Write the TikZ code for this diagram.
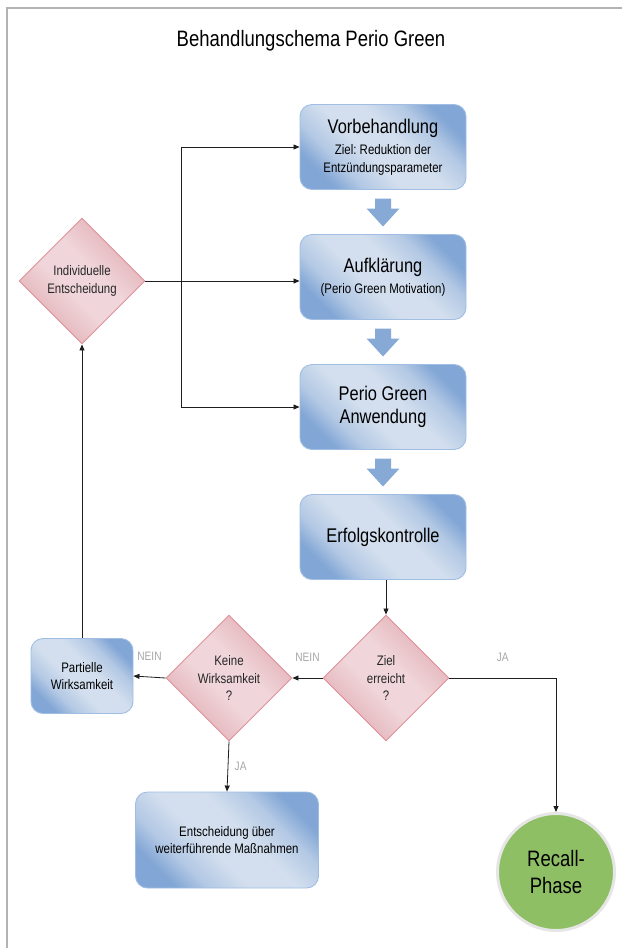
\documentclass[tikz,border=0pt]{standalone}
\usepackage{fontspec}
\setmainfont{Liberation Sans}[FakeStretch=0.83]
\usepackage{tikz}
\usetikzlibrary{calc, shapes.geometric, arrows.meta}
\definecolor{boxDark}{HTML}{82A6D5}
\definecolor{boxLight}{HTML}{D3DFEE}
\colorlet{boxMid}{boxDark!40!boxLight}
\definecolor{boxEdge}{HTML}{A0BEE3}
\definecolor{diaDark}{HTML}{D99AA2}
\definecolor{diaLight}{HTML}{F0D6DA}
\colorlet{diaMid}{diaDark!40!diaLight}
\definecolor{diaEdge}{HTML}{E0929A}
\definecolor{arrowBlue}{HTML}{86A9D6}
\definecolor{recallGreen}{HTML}{8FBF64}
\definecolor{ringGray}{HTML}{E6E6E6}
\definecolor{labelGray}{HTML}{A6A6A6}
\definecolor{lineBlack}{HTML}{1E1E1E}
\definecolor{frameGray}{HTML}{B3B3B3}
\pgfdeclarehorizontalshading{boxShade}{100bp}{color(0bp)=(boxDark); color(25bp)=(boxDark);
    color(33bp)=(boxMid); color(44bp)=(boxLight); color(56bp)=(boxLight); color(67bp)=(boxMid);
    color(75bp)=(boxDark); color(100bp)=(boxDark)}
\pgfdeclarehorizontalshading{diaShade}{100bp}{color(0bp)=(diaDark); color(25bp)=(diaDark);
    color(33bp)=(diaMid); color(44bp)=(diaLight); color(56bp)=(diaLight); color(67bp)=(diaMid);
    color(75bp)=(diaDark); color(100bp)=(diaDark)}
\newcommand{\titleFont}{\fontsize{22.3}{26}\selectfont}
\newcommand{\headFont}{\fontsize{19.8}{23}\selectfont}
\newcommand{\subFont}{\fontsize{13.8}{17.7}\selectfont}
\newcommand{\labelFont}{\fontsize{12.2}{14}\selectfont}
\frenchspacing

\begin{document}
\begin{tikzpicture}[x=1pt, y=1pt,
    stepBox/.style={rectangle, rounded corners=12pt, draw=boxEdge, line width=0.9pt,
        shade, shading=boxShade, shading angle=45,
        minimum width=166pt, minimum height=85pt, align=center, text=black},
    decisionBox/.style={diamond, draw=diaEdge, line width=0.9pt,
        shade, shading=diaShade, shading angle=45,
        minimum width=126pt, minimum height=126pt, inner sep=0pt, align=center,
        font=\subFont, text=black!85},
    flowLine/.style={draw=lineBlack, line width=0.8pt, ->},
    answer/.style={font=\labelFont, text=labelGray},
    >={Triangle[length=6pt, width=5pt]}]
    \useasboundingbox (0,0) rectangle (622,-948);
    \draw[frameGray, line width=1.5pt] (7,-948) -- (7,-8) -- (622,-8);
    \node[font=\titleFont, anchor=base] (title) at (311,-46) {Behandlungschema Perio Green};

    % main column
    \node[stepBox, font=\subFont] (vor) at (383,-147) {{\headFont Vorbehandlung}\\[4pt]Ziel: Reduktion der\\Entzündungsparameter};
    \node[stepBox, font=\subFont] (auf) at (383,-277) {{\headFont Aufklärung}\\[3.3pt](Perio Green Motivation)};
    \node[stepBox, font=\headFont] (anw) at (383,-407) {Perio Green\\Anwendung};
    \node[stepBox, font=\headFont] (erf) at (383,-537) {Erfolgskontrolle};
    \foreach \a/\b in {vor/auf, auf/anw, anw/erf}{
        \coordinate (mid) at ($(\a.south)!0.5!(\b.north)$);
        \fill[arrowBlue, shift={(mid)}] (-8,13.5) -- (8,13.5) -- (8,3.5) -- (16.5,3.5)
            -- (0,-14.5) -- (-16.5,3.5) -- (-8,3.5) -- cycle;
    }

    % decisions
    \node[decisionBox] (indiv) at (82,-281) {Individuelle\\Entscheidung};
    \node[decisionBox] (keine) at (229,-678) {Keine\\Wirksamkeit\\?};
    \node[decisionBox] (ziel) at (386,-678) {Ziel\\erreicht\\?};
    \node[stepBox, minimum width=102pt, minimum height=75pt, font=\subFont] (partial) at (82,-676) {Partielle\\Wirksamkeit};
    \node[stepBox, minimum width=183pt, minimum height=96pt, font=\subFont] (entsch) at (227,-840) {Entscheidung über\\weiterführende Maßnahmen};
    \node[circle, fill=recallGreen, draw=ringGray, line width=3pt, minimum size=117pt, inner sep=0pt,
        font=\fontsize{22.3}{27}\selectfont, align=center] (recall) at (556,-872) {Recall-\\Phase};

    % connectors
    \coordinate (split) at (181,-281);
    \draw[flowLine] (indiv.east) -- (auf.west |- indiv.east);
    \draw[flowLine] (split) |- (vor.west);
    \draw[flowLine] (split) |- (anw.west);
    \draw[flowLine] (partial.north) -- (indiv.south);
    \draw[flowLine] (erf.south -| ziel.north) -- (ziel.north);
    \draw[flowLine] (ziel.west) -- node[answer, above=13pt] {NEIN} (keine.east);
    \draw[flowLine] (keine.west) -- node[answer, above=13pt] {NEIN} (partial.east);
    \draw[flowLine] (ziel.east) -| node[answer, pos=0.25, above=13pt] {JA} (recall.north);
    \draw[flowLine] (keine.south) -- node[answer, right=3pt] {JA} (entsch.north);
\end{tikzpicture}
\end{document}
